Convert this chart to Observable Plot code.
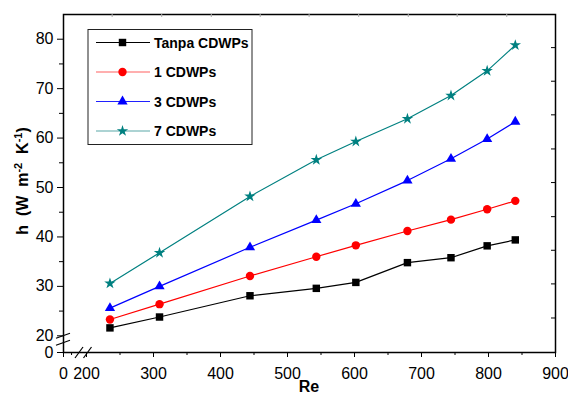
<!DOCTYPE html>
<html><head><meta charset="utf-8">
<script src="https://cdn.jsdelivr.net/npm/d3@7"></script>
<script src="https://cdn.jsdelivr.net/npm/@observablehq/plot@0.6"></script>
<style>body{margin:0;background:#fff;}</style>
</head><body><div id="chart"></div>
<script>
const re    = [235, 309, 444, 543, 602, 679, 744, 798, 840];
const tanpa = [21.6, 23.8, 28.1, 29.6, 30.8, 34.8, 35.8, 38.2, 39.4];
const one   = [23.3, 26.4, 32.1, 36.0, 38.3, 41.2, 43.5, 45.6, 47.3];
const three = [25.6, 30.0, 37.9, 43.4, 46.7, 51.4, 55.8, 59.8, 63.3];
const seven = [30.6, 36.8, 48.2, 55.6, 59.3, 63.9, 68.6, 73.6, 78.8];
const seriesNames   = ["Tanpa CDWPs", "1 CDWPs", "3 CDWPs", "7 CDWPs"];
const seriesValues  = [tanpa, one, three, seven];
const seriesColors  = ["#000000", "#ff0000", "#0000ff", "#008080"];
const legendLineColors = ["#000000", "#ff6060", "#2020ff", "#5aa8a8"];
const seriesSymbols = ["square", "circle", "triangle", "star"];
const seriesR       = [4.2, 4.2, 3.8, 3.6];
const xTicks = [0, 200, 300, 400, 500, 600, 700, 800, 900];
const xMinor = [70, 250, 350, 450, 550, 650, 750, 850];
const yTicks = [0, 20, 30, 40, 50, 60, 70, 80];
const yMinor = [25, 35, 45, 55, 65, 75];
const rightTicks = [78.2, 71.4, 64.6, 57.7, 50.9, 44.0, 37.2, 30.4, 23.5];
const topTicks = [239, 313, 387, 460, 533, 607, 681, 754, 828];
const xLabel = "Re";

const rows = [];
seriesNames.forEach((s, i) => re.forEach((r, j) => rows.push({series: s, re: r, h: seriesValues[i][j]})));

const symMap = {square: d3.symbolSquare, circle: d3.symbolCircle, triangle: d3.symbolTriangle, star: d3.symbolStar};

function deco(index, scales, values, dims) {
  const x = scales.x, y = scales.y;
  const left = dims.marginLeft, right = dims.width - dims.marginRight;
  const top = dims.marginTop, bottom = dims.height - dims.marginBottom;
  const g = d3.create("svg:g");
  for (const t of topTicks) g.append("line").attr("x1", x(t)).attr("x2", x(t)).attr("y1", top).attr("y2", top + 3).attr("stroke", "#aaa");
  for (const t of rightTicks) g.append("line").attr("x1", right).attr("x2", right - 4).attr("y1", y(t)).attr("y2", y(t)).attr("stroke", "#000");
  // y axis break
  const yb = y(20);
  for (const o of [0.5, 7.5]) g.append("line").attr("x1", left - 7).attr("x2", left + 7).attr("y1", yb + o + 2.5).attr("y2", yb + o - 2.5).attr("stroke", "#000").attr("stroke-width", 1.2);
  // x axis break
  const xb = x(200);
  for (const o of [-7, 1.5]) g.append("line").attr("x1", xb + o - 4).attr("x2", xb + o + 4).attr("y1", bottom + 6).attr("y2", bottom - 5).attr("stroke", "#000").attr("stroke-width", 1.2);
  // legend
  const lg = g.append("g");
  lg.append("rect").attr("x", 88).attr("y", 29.5).attr("width", 164).attr("height", 115).attr("fill", "#fff").attr("stroke", "#222").attr("stroke-width", 1);
  seriesNames.forEach((s, i) => {
    const cy = 42.5 + 29.5 * i;
    lg.append("line").attr("x1", 96).attr("x2", 150).attr("y1", cy).attr("y2", cy).attr("stroke", legendLineColors[i]).attr("stroke-width", 1.2);
    lg.append("path").attr("transform", `translate(122.5,${cy})`).attr("d", d3.symbol(symMap[seriesSymbols[i]], Math.PI * seriesR[i] ** 2)()).attr("fill", seriesColors[i]);
    lg.append("text").attr("x", 154).attr("y", cy).attr("dy", "0.38em").attr("text-anchor", "start").attr("font-weight", "bold").attr("font-size", 14).attr("fill", "#000").text(s);
  });
  // y label with superscripts
  const yl = g.append("text").attr("transform", `translate(28,181) rotate(-90)`).attr("text-anchor", "middle").attr("font-weight", "bold").attr("font-size", 16).attr("fill", "#000").style("white-space", "pre");
  yl.append("tspan").text("h  (W  m");
  yl.append("tspan").attr("baseline-shift", "super").attr("font-size", 11).text("-2");
  yl.append("tspan").text("  K");
  yl.append("tspan").attr("baseline-shift", "super").attr("font-size", 11).text("-1");
  yl.append("tspan").text(")");
  // x label
  g.append("text").attr("x", (left + right) / 2).attr("y", 392).attr("text-anchor", "middle").attr("font-weight", "bold").attr("font-size", 16).attr("fill", "#000").text(xLabel);
  return g.node();
}

const marks = [
  Plot.axisX({anchor: "bottom", ticks: xTicks, tickSize: 5, tickPadding: 10, tickFormat: d => String(d), fontSize: 16, label: null}),
  Plot.axisX({anchor: "bottom", ticks: xMinor, tickSize: 3, tickFormat: () => "", label: null}),
  Plot.axisY({anchor: "left", ticks: yTicks, tickSize: 6, tickPadding: 4, tickFormat: d => String(d), fontSize: 16, label: null}),
  Plot.axisY({anchor: "left", ticks: yMinor, tickSize: 4, tickFormat: () => "", label: null}),
  Plot.line(rows, {x: "re", y: "h", z: "series", stroke: "series", strokeWidth: 1.2})
];
seriesNames.forEach((s, i) => {
  marks.push(Plot.dot(rows.filter(d => d.series === s), {x: "re", y: "h", fill: seriesColors[i], stroke: "none", symbol: () => seriesSymbols[i], r: seriesR[i]}));
});
marks.push(Plot.frame({stroke: "#000", strokeWidth: 1.5}));
marks.push(deco);

const chart = Plot.plot({
  width: 568, height: 394,
  marginLeft: 63, marginRight: 13, marginTop: 14, marginBottom: 42,
  style: {fontFamily: "'Liberation Sans', Arial, sans-serif", fontSize: "16px", background: "#fff", color: "#000", overflow: "visible"},
  x: {type: "linear", domain: [0, 200, 900], range: [63, 86, 555]},
  y: {type: "linear", domain: [0, 20, 85], range: [352, 335.3, 14]},
  color: {domain: seriesNames, range: seriesColors},
  symbol: {domain: seriesSymbols, range: seriesSymbols},
  marks
});
document.getElementById("chart").appendChild(chart);
</script></body></html>
